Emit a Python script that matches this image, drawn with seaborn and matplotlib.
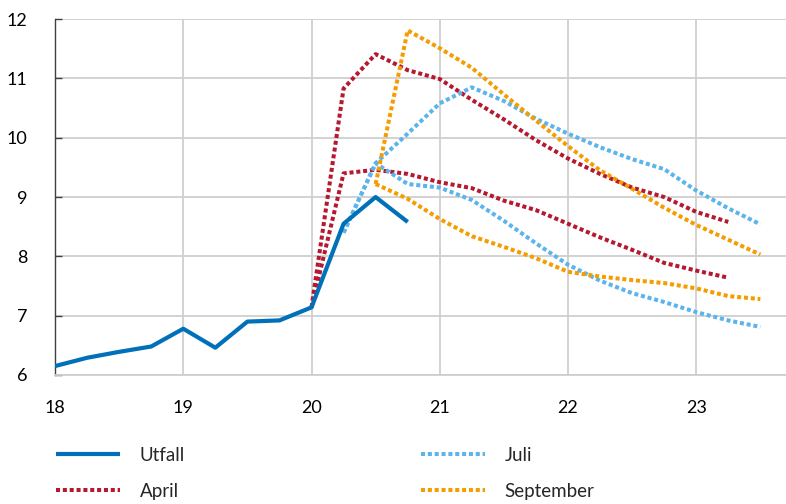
import pandas as pd
import numpy as np
import matplotlib
matplotlib.use("Agg")
import matplotlib.pyplot as plt
import seaborn as sns

# quarterly positions (year 18 = 2018)
utfall_x = [18.0, 18.25, 18.5, 18.75, 19.0, 19.25, 19.5, 19.75, 20.0, 20.25, 20.5, 20.75]
utfall = [6.15, 6.29, 6.39, 6.48, 6.78, 6.46, 6.90, 6.92, 7.14, 8.55, 9.00, 8.58]

april_x = [20.0, 20.25, 20.5, 20.75, 21.0, 21.25, 21.5, 21.75, 22.0, 22.25, 22.5, 22.75, 23.0, 23.25]
april_high = [7.14, 10.83, 11.41, 11.14, 10.99, 10.64, 10.31, 9.96, 9.65, 9.39, 9.16, 9.00, 8.75, 8.58]
april_low = [7.14, 9.40, 9.46, 9.39, 9.25, 9.15, 8.94, 8.78, 8.55, 8.32, 8.11, 7.89, 7.76, 7.64]

juli_x = [20.25, 20.5, 20.75, 21.0, 21.25, 21.5, 21.75, 22.0, 22.25, 22.5, 22.75, 23.0, 23.25, 23.5]
juli_high = [8.40, 9.57, 10.07, 10.58, 10.85, 10.62, 10.32, 10.07, 9.84, 9.64, 9.47, 9.11, 8.81, 8.54]
juli_low = [8.40, 9.57, 9.22, 9.16, 8.95, 8.60, 8.22, 7.86, 7.59, 7.38, 7.23, 7.06, 6.92, 6.81]

sep_x = [20.5, 20.75, 21.0, 21.25, 21.5, 21.75, 22.0, 22.25, 22.5, 22.75, 23.0, 23.25, 23.5]
sep_high = [9.22, 11.81, 11.51, 11.18, 10.73, 10.29, 9.86, 9.45, 9.14, 8.82, 8.53, 8.28, 8.03]
sep_low = [9.22, 8.97, 8.63, 8.34, 8.16, 7.97, 7.74, 7.66, 7.60, 7.55, 7.46, 7.33, 7.28]

year_ticks = [18, 19, 20, 21, 22, 23]
year_labels = ["18", "19", "20", "21", "22", "23"]
y_ticks = [6, 7, 8, 9, 10, 11, 12]

# colours
c_utfall = "#0070B8"
c_april = "#B5182F"
c_juli = "#5BB4EC"
c_sep = "#F59D00"

sns.set_theme(style="white")
plt.rcParams["font.family"] = ["Lato", "DejaVu Sans"]

fig = plt.figure(figsize=(7.86, 5.04), dpi=100)
ax = fig.add_axes([0.070, 0.256, 0.930, 0.706])

dots = (0, (1.0, 0.7))
lw = 2.9

def dotted(x, y, color, label=None):
    sns.lineplot(x=x, y=y, ax=ax, color=color, linewidth=lw, linestyle=dots,
                 dash_capstyle="butt", label=label, zorder=3)

dotted(april_x, april_high, c_april)
dotted(april_x, april_low, c_april)
dotted(juli_x, juli_high, c_juli)
dotted(juli_x, juli_low, c_juli)
dotted(sep_x, sep_high, c_sep)
dotted(sep_x, sep_low, c_sep)
sns.lineplot(x=utfall_x, y=utfall, ax=ax, color=c_utfall, linewidth=3.0,
             solid_capstyle="butt", zorder=4)

ax.set_xlim(18, 23.7)
ax.set_ylim(6, 12)
ax.set_xticks(year_ticks)
ax.set_xticklabels(year_labels)
ax.set_yticks(y_ticks)

ax.grid(True, color="#CFCFCF", linewidth=1.3)
ax.set_axisbelow(True)
for side in ["top", "right"]:
    ax.spines[side].set_visible(False)
ax.spines["bottom"].set_color("#CFCFCF")
ax.spines["bottom"].set_linewidth(1.3)
ax.spines["left"].set_color("#404040")
ax.spines["left"].set_linewidth(1.0)

ax.tick_params(axis="y", direction="in", length=5, width=1, color="#404040",
               pad=20, labelsize=13, labelcolor="black", left=True)
ax.tick_params(axis="x", length=0, pad=18, labelsize=13, labelcolor="black")
ax.set_xlabel("")
ax.set_ylabel("")

# legend
from matplotlib.lines import Line2D
handles = [
    Line2D([], [], color=c_utfall, linewidth=3.0, solid_capstyle="butt"),
    Line2D([], [], color=c_april, linewidth=lw, linestyle=dots, dash_capstyle="butt"),
    Line2D([], [], color=c_juli, linewidth=lw, linestyle=dots, dash_capstyle="butt"),
    Line2D([], [], color=c_sep, linewidth=lw, linestyle=dots, dash_capstyle="butt"),
]
labels = ["Utfall", "April", "Juli", "September"]
leg = fig.legend(handles, labels, ncol=2, loc="upper left",
                 bbox_to_anchor=(0.062, 0.128), frameon=False, fontsize=13.5,
                 handlelength=3.4, handletextpad=1.05, columnspacing=12.6,
                 labelspacing=1.0, borderaxespad=0)

fig.savefig("out.png", dpi=100)
